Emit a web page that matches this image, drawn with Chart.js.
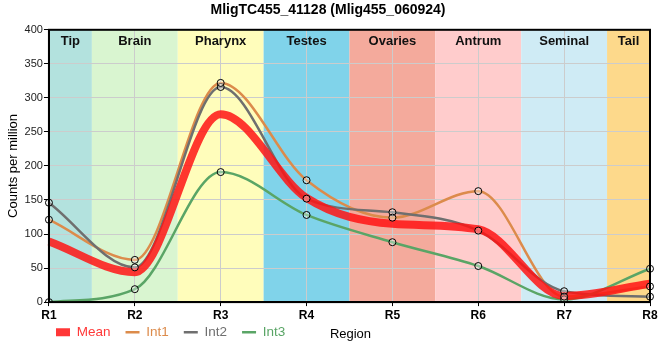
<!DOCTYPE html>
<html>
<head>
<meta charset="utf-8">
<script src="https://cdn.jsdelivr.net/npm/chart.js@4.4.1/dist/chart.umd.min.js"></script>
<style>
  html, body { margin: 0; padding: 0; background: #ffffff; }
  #wrap { width: 660px; height: 360px; }
</style>
</head>
<body>
<div id="wrap"><canvas id="c" width="660" height="360"></canvas></div>
<script>
// ---- data ----
const regions = ['R1', 'R2', 'R3', 'R4', 'R5', 'R6', 'R7', 'R8'];
const meanValues = [89, 44, 276, 153, 115, 107, 9, 27];
const int1Values = [121, 62, 322, 179, 124, 163, 8, 23];
const int2Values = [146, 51, 316, 152, 132, 105, 16, 8];
const int3Values = [0, 19, 191, 128, 88, 53, 4, 49];

const bandNames = ['Tip', 'Brain', 'Pharynx', 'Testes', 'Ovaries', 'Antrum', 'Seminal', 'Tail'];
const bandStart = [0, 0.5, 1.5, 2.5, 3.5, 4.5, 5.5, 6.5];
const bandEnd   = [0.5, 1.5, 2.5, 3.5, 4.5, 5.5, 6.5, 7];
const bandColors = ['#b3e2de', '#d9f5d0', '#fffdbb', '#80d3ea', '#f4aa9c', '#ffcccc', '#cfebf5', '#fdd98b'];

const yTicks = [0, 50, 100, 150, 200, 250, 300, 350, 400];
const xTitle = 'Region';

const FONT = "'Liberation Sans', Arial, sans-serif";
const COL_MEAN = 'rgba(255, 20, 20, 0.85)';
const COL_INT1 = '#dc8b4b';
const COL_INT2 = '#6f6f6f';
const COL_INT3 = '#5aa566';

const bandPlugin = {
  id: 'bands',
  beforeDraw(chart) {
    const {ctx, chartArea: a, scales: {x}} = chart;
    ctx.save();
    for (let i = 0; i < bandNames.length; i++) {
      const x0 = x.getPixelForValue(bandStart[i]);
      const x1 = x.getPixelForValue(bandEnd[i]);
      ctx.fillStyle = bandColors[i];
      ctx.fillRect(x0, a.top, x1 - x0, a.bottom - a.top);
    }
    ctx.restore();
  },
  afterDatasetsDraw(chart) {
    const {ctx, chartArea: a, scales: {x}} = chart;
    ctx.save();
    ctx.font = "bold 13px " + FONT;
    ctx.fillStyle = '#111';
    ctx.textAlign = 'center';
    ctx.textBaseline = 'middle';
    for (let i = 0; i < bandNames.length; i++) {
      const x0 = x.getPixelForValue(bandStart[i]);
      const x1 = x.getPixelForValue(bandEnd[i]);
      ctx.fillText(bandNames[i], (x0 + x1) / 2, a.top + 12);
    }
    ctx.strokeStyle = '#000';
    ctx.lineWidth = 2;
    ctx.strokeRect(a.left, a.top, a.right - a.left, a.bottom - a.top);
    ctx.restore();
  },
  afterDraw(chart) {
    const {ctx, chartArea: a} = chart;
    ctx.save();
    ctx.font = "13px " + FONT;
    ctx.fillStyle = '#000';
    ctx.textAlign = 'center';
    ctx.textBaseline = 'middle';
    ctx.fillText(xTitle, (a.left + a.right) / 2 + 1, a.bottom + 32);
    ctx.restore();
  }
};

const legendShift = {
  id: 'legendShift',
  afterLayout(chart) {
    const lg = chart.legend;
    if (lg) {
      lg.left += 35; lg.right += 35;
      lg.top -= 14; lg.bottom -= 14;
    }
  }
};

const lineBase = {
  fill: false,
  cubicInterpolationMode: 'monotone',
  pointRadius: 0,
  pointHoverRadius: 0
};
const markerBase = {
  showLine: false,
  pointRadius: 3.5,
  pointBorderWidth: 1,
  pointBorderColor: '#000',
  pointBackgroundColor: 'rgba(255,255,255,0.35)',
  order: 0
};

new Chart(document.getElementById('c'), {
  type: 'line',
  data: {
    labels: regions,
    datasets: [
      Object.assign({label: 'Mean', data: meanValues, borderColor: COL_MEAN, backgroundColor: COL_MEAN, borderWidth: 8, order: 1}, lineBase),
      Object.assign({label: 'Int1', data: int1Values, borderColor: COL_INT1, backgroundColor: COL_INT1, borderWidth: 2.5, order: 4}, lineBase),
      Object.assign({label: 'Int2', data: int2Values, borderColor: COL_INT2, backgroundColor: COL_INT2, borderWidth: 2.5, order: 3}, lineBase),
      Object.assign({label: 'Int3', data: int3Values, borderColor: COL_INT3, backgroundColor: COL_INT3, borderWidth: 2.5, order: 2}, lineBase),
      Object.assign({label: 'm1', data: int1Values}, markerBase),
      Object.assign({label: 'm2', data: int2Values}, markerBase),
      Object.assign({label: 'm3', data: int3Values}, markerBase)
    ]
  },
  options: {
    responsive: false,
    animation: false,
    devicePixelRatio: 1,
    layout: { padding: { left: 6, right: 10, top: 0, bottom: -3 } },
    plugins: {
      title: {
        display: true,
        text: 'MligTC455_41128 (Mlig455_060924)',
        color: '#000',
        font: { family: FONT, size: 14, weight: 'bold' },
        padding: { top: 2, bottom: 11 }
      },
      legend: {
        display: true,
        position: 'bottom',
        align: 'start',
        labels: {
          usePointStyle: true,
          pointStyleWidth: 14,
          boxHeight: 8,
          padding: 15,
          font: { family: FONT, size: 13.5 },
          generateLabels(chart) {
            const defs = [
              {text: 'Mean', color: COL_MEAN, style: 'rect', lw: 0},
              {text: 'Int1', color: COL_INT1, style: 'line', lw: 2.5},
              {text: 'Int2', color: COL_INT2, style: 'line', lw: 2.5},
              {text: 'Int3', color: COL_INT3, style: 'line', lw: 2.5}
            ];
            return defs.map((d, i) => ({
              text: d.text,
              fillStyle: d.color,
              strokeStyle: d.color,
              lineWidth: d.lw,
              pointStyle: d.style,
              fontColor: d.color,
              hidden: false,
              datasetIndex: i
            }));
          }
        }
      },
      tooltip: { enabled: false }
    },
    scales: {
      x: {
        type: 'category',
        offset: false,
        grid: { color: '#cccccc', lineWidth: 1, tickColor: '#000', tickLength: 4 },
        border: { color: '#000', width: 2 },
        ticks: { color: '#000', font: { family: FONT, size: 12, weight: 'bold' }, padding: 2, maxRotation: 0 },
        title: { display: false }
      },
      y: {
        type: 'linear',
        min: 0,
        max: 400,
        afterBuildTicks(axis) { axis.ticks = yTicks.map(v => ({value: v})); },
        grid: { color: '#cccccc', lineWidth: 1, tickColor: '#000', tickLength: 5 },
        border: { color: '#000', width: 2 },
        ticks: { color: '#222', font: { family: FONT, size: 11 }, padding: 1 },
        title: {
          display: true,
          text: 'Counts per million',
          color: '#000',
          font: { family: FONT, size: 13 },
          padding: { top: 0, bottom: 2 }
        }
      }
    }
  },
  plugins: [bandPlugin, legendShift]
});
</script>
</body>
</html>
